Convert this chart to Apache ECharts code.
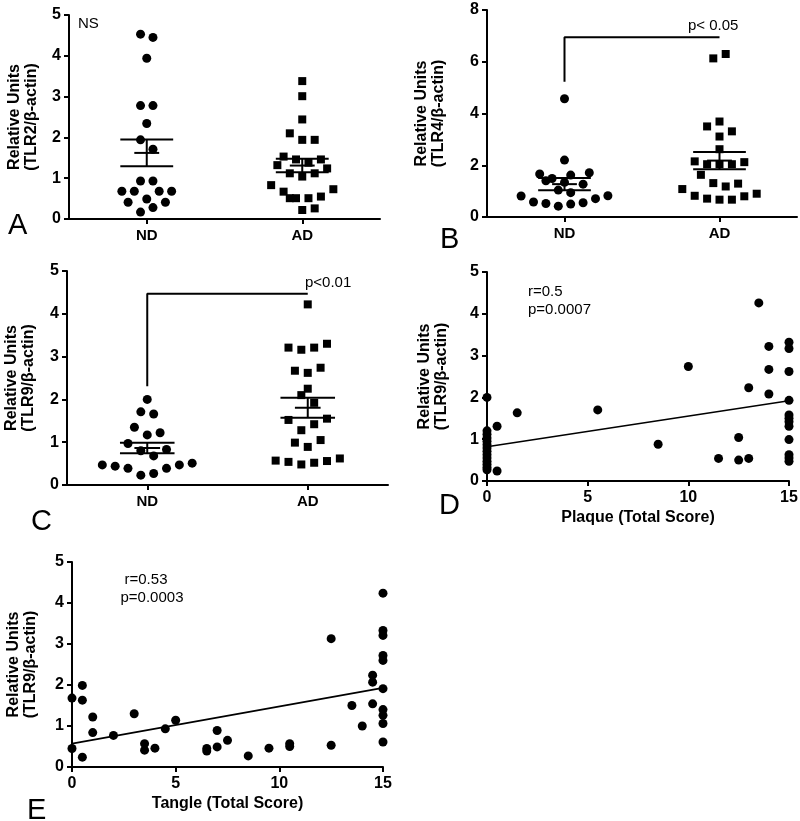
<!DOCTYPE html>
<html><head><meta charset="utf-8">
<script src="https://cdn.jsdelivr.net/npm/echarts@6/dist/echarts.min.js"></script>
<style>html,body{margin:0;padding:0;background:#fff}#c{width:800px;height:821px}</style>
</head><body><div id="c"></div>
<script>
// ---------- DATA ----------
const groups = ['ND', 'AD'];
const yTicksA = [0, 1, 2, 3, 4, 5];
const yTicksB = [0, 2, 4, 6, 8];
const xTicksScore = [0, 5, 10, 15];

// Panel A: TLR2 (values and horizontal jitter offsets)
const aNdY = [4.53, 4.45, 3.94, 2.78, 2.78, 2.34, 1.94, 1.71, 0.93, 0.93, 0.68, 0.68, 0.68, 0.68, 0.41, 0.49, 0.41, 0.17, 0.28];
const aNdJ = [-0.04, 0.04, 0, -0.04, 0.04, 0, -0.04, 0.04, -0.04, 0.04, -0.16, -0.08, 0.08, 0.16, -0.12, 0, 0.12, -0.04, 0.04];
const aAdY = [3.38, 3.01, 2.44, 2.10, 1.94, 1.94, 1.53, 1.46, 1.38, 1.46, 1.32, 1.12, 1.04, 1.12, 1.24, 0.83, 0.67, 0.73, 0.51, 0.51, 0.51, 0.55, 0.22, 0.26];
const aAdJ = [0, 0, 0, -0.08, 0, 0.08, -0.12, -0.04, 0.04, 0.12, -0.16, -0.08, 0, 0.08, 0.16, -0.2, -0.12, 0.2, -0.08, -0.04, 0.04, 0.12, 0, 0.08];
const aMean = [1.62, 1.31];
const aSem = [0.33, 0.165];

// Panel B: TLR4
const bNdY = [4.57, 2.20, 1.66, 1.49, 1.40, 1.62, 1.71, 1.04, 0.94, 1.27, 1.34, 0.81, 0.58, 0.52, 0.42, 0.50, 0.55, 0.71, 0.82];
const bNdJ = [0, 0, -0.16, -0.08, -0.12, 0.04, 0.16, -0.04, 0.04, 0.12, 0, -0.28, -0.2, -0.12, -0.04, 0.04, 0.12, 0.2, 0.28];
const bAdY = [6.13, 6.30, 3.50, 3.69, 3.31, 3.11, 2.62, 2.15, 2.04, 2.04, 2.04, 2.12, 1.63, 1.31, 1.18, 1.29, 1.08, 0.82, 0.71, 0.67, 0.67, 0.80, 0.90];
const bAdJ = [-0.04, 0.04, -0.08, 0, 0.08, 0, 0, -0.16, -0.08, 0, 0.08, 0.16, -0.12, -0.04, 0.04, 0.12, -0.24, -0.16, -0.08, 0, 0.08, 0.16, 0.24];
const bMean = [1.27, 2.18];
const bSem = [0.24, 0.33];
const bBracket = [5.23, 6.95];

// Panel C: TLR9
const cNdY = [2.00, 1.71, 1.66, 1.35, 1.17, 1.22, 0.97, 0.80, 0.68, 0.83, 0.47, 0.44, 0.39, 0.23, 0.27, 0.39, 0.47, 0.51];
const cNdJ = [0, -0.04, 0.04, -0.08, 0, 0.08, -0.12, -0.04, 0.04, 0.12, -0.28, -0.2, -0.12, -0.04, 0.04, 0.12, 0.2, 0.28];
const cAdY = [4.22, 3.21, 3.16, 3.21, 3.30, 2.67, 2.62, 2.74, 2.25, 2.10, 1.92, 1.52, 1.28, 1.42, 1.55, 0.99, 0.89, 1.05, 0.57, 0.54, 0.48, 0.52, 0.56, 0.62];
const cAdJ = [0, -0.12, -0.04, 0.04, 0.12, -0.08, 0, 0.08, 0, -0.04, 0.04, -0.12, -0.04, 0.04, 0.12, -0.08, 0, 0.08, -0.2, -0.12, -0.04, 0.04, 0.12, 0.2];
const cMean = [0.865, 1.805];
const cSem = [0.125, 0.235];
const cBracket = [2.31, 4.47];

// Panel D: TLR9 vs plaque score
const plaqueX = [0, 0, 0, 0, 0, 0, 0, 0, 0, 0, 0, 0, 0, 0, 0.5, 0.5, 1.5, 5.5, 8.5, 10, 11.5, 12.5, 12.5, 13, 13, 13.5, 14, 14, 14, 15, 15, 15, 15, 15, 15, 15, 15, 15, 15, 15, 15];
const plaqueY = [2.00, 1.20, 1.12, 1.03, 0.95, 0.87, 0.79, 0.71, 0.63, 0.55, 0.47, 0.40, 0.33, 0.27, 1.31, 0.24, 1.63, 1.70, 0.88, 2.74, 0.54, 1.04, 0.50, 0.54, 2.23, 4.26, 3.22, 2.67, 2.08, 3.32, 3.17, 2.62, 1.93, 1.58, 1.50, 1.42, 1.31, 0.99, 0.63, 0.55, 0.47];
const plaqueFitX = [0, 15];
const plaqueFitY = [0.82, 1.92];

// Panel E: TLR9 vs tangle score
const tangleX = [0, 0, 0.5, 0.5, 0.5, 1, 1, 2, 3, 3.5, 3.5, 4, 4.5, 5, 6.5, 6.5, 7, 7, 7.5, 8.5, 9.5, 10.5, 10.5, 12.5, 12.5, 13.5, 14, 14.5, 14.5, 14.5, 15, 15, 15, 15, 15, 15, 15, 15, 15, 15];
const tangleY = [1.68, 0.45, 1.99, 1.63, 0.24, 1.22, 0.84, 0.77, 1.30, 0.57, 0.41, 0.46, 0.93, 1.14, 0.45, 0.39, 0.89, 0.49, 0.65, 0.27, 0.46, 0.57, 0.50, 3.13, 0.53, 1.50, 1.00, 2.24, 2.07, 1.54, 4.24, 3.33, 3.21, 2.72, 2.60, 1.91, 1.40, 1.26, 1.06, 0.61];
const tangleFitX = [0, 15];
const tangleFitY = [0.57, 1.93];

// ---------- CHART ----------
const FONT = 'Liberation Sans, Arial, sans-serif';
const BLACK = '#000';
const chart = echarts.init(document.getElementById('c'), null, {renderer: 'canvas'});

const gridsPx = [
  {left: 69, top: 15, width: 311, height: 204},
  {left: 487, top: 10, width: 310, height: 207},
  {left: 67, top: 271, width: 321, height: 214},
  {left: 487, top: 272, width: 302, height: 209},
  {left: 72, top: 562, width: 311, height: 205}
];

const axisLine = {show: true, onZero: false, lineStyle: {color: BLACK, width: 2}};
const axisTick = {show: true, length: 5, lineStyle: {color: BLACK, width: 2}};
const tickLabel = {color: BLACK, fontFamily: FONT, fontWeight: 'bold', fontSize: 16};

function catAxis(g) {
  return {type: 'category', gridIndex: g, data: groups, boundaryGap: true,
    axisLine, axisTick: Object.assign({alignWithLabel: true}, axisTick),
    axisLabel: Object.assign({margin: 9}, tickLabel, {fontSize: 15}), splitLine: {show: false}};
}
function hiddenX(g) {
  return {type: 'value', gridIndex: g, min: 0, max: 2, show: false, splitLine: {show: false}};
}
function scoreAxis(g, name) {
  return {type: 'value', gridIndex: g, min: xTicksScore[0], max: xTicksScore[xTicksScore.length - 1],
    interval: xTicksScore[1] - xTicksScore[0], axisLine, axisTick,
    axisLabel: Object.assign({margin: 9}, tickLabel), splitLine: {show: false},
    name, nameLocation: 'middle', nameGap: 29,
    nameTextStyle: {color: BLACK, fontFamily: FONT, fontWeight: 'bold', fontSize: 16}};
}
function yAx(g, ticks, label, gap) {
  return {type: 'value', gridIndex: g, min: ticks[0], max: ticks[ticks.length - 1],
    interval: ticks[1] - ticks[0], axisLine, axisTick,
    axisLabel: Object.assign({margin: 8}, tickLabel), splitLine: {show: false},
    name: 'Relative Units\n(' + label + '/β-actin)', nameLocation: 'middle', nameGap: gap,
    nameTextStyle: {color: BLACK, fontFamily: FONT, fontWeight: 'bold', fontSize: 16, lineHeight: 17}};
}

function dots(xi, yi, ys, xs, symbol, size) {
  return {type: 'scatter', xAxisIndex: xi, yAxisIndex: yi, symbol, symbolSize: size, clip: false,
    itemStyle: {color: BLACK, opacity: 1}, z: 3, silent: true,
    data: ys.map((v, i) => [xs[i], v])};
}
function jittered(js, center) { return js.map(j => center + j); }
function semSeries(xi, yi, means, sems) {
  return {type: 'custom', xAxisIndex: xi, yAxisIndex: yi, z: 6, silent: true, clip: false,
    encode: {x: 0, y: 1},
    data: means.map((m, i) => [i + 0.5, m, sems[i]]),
    renderItem(params, api) {
      const x = api.value(0), m = api.value(1), s = api.value(2);
      const wWide = 0.17, wShort = 0.08;
      const seg = (x1, y1, x2, y2) => {
        const p1 = api.coord([x1, y1]), p2 = api.coord([x2, y2]);
        return {type: 'line', shape: {x1: p1[0], y1: p1[1], x2: p2[0], y2: p2[1]},
          style: {stroke: BLACK, lineWidth: 2}};
      };
      return {type: 'group', children: [
        seg(x - wWide, m + s, x + wWide, m + s),
        seg(x - wWide, m - s, x + wWide, m - s),
        seg(x - wShort, m, x + wShort, m),
        seg(x, m - s, x, m + s)
      ]};
    }};
}
function bracket(xi, yi, lo, hi) {
  return {type: 'line', xAxisIndex: xi, yAxisIndex: yi, symbol: 'none', silent: true, z: 4,
    lineStyle: {color: BLACK, width: 2}, data: [[0.5, lo], [0.5, hi], [1.5, hi]]};
}
function fitLine(xi, yi, xs, ys) {
  return {type: 'line', xAxisIndex: xi, yAxisIndex: yi, symbol: 'none', silent: true, z: 4,
    lineStyle: {color: BLACK, width: 1.6}, data: xs.map((x, i) => [x, ys[i]])};
}
function txt(x, y, s, size, align) {
  return {type: 'text', x, y, silent: true,
    style: {text: s, fill: BLACK, font: 'normal ' + size + 'px ' + FONT, textAlign: align || 'left'}};
}

const option = {
  animation: false,
  backgroundColor: '#fff',
  grid: gridsPx.map(g => Object.assign({containLabel: false, outerBoundsMode: 'none'}, g)),
  xAxis: [catAxis(0), hiddenX(0), catAxis(1), hiddenX(1), catAxis(2), hiddenX(2),
    scoreAxis(3, 'Plaque (Total Score)'), scoreAxis(4, 'Tangle (Total Score)')],
  yAxis: [yAx(0, yTicksA, 'TLR2', 29), yAx(1, yTicksB, 'TLR4', 40), yAx(2, yTicksA, 'TLR9', 30),
    yAx(3, yTicksA, 'TLR9', 37), yAx(4, yTicksA, 'TLR9', 33)],
  series: [
    dots(1, 0, aNdY, jittered(aNdJ, 0.5), 'circle', 9), dots(1, 0, aAdY, jittered(aAdJ, 1.5), 'rect', 8),
    semSeries(1, 0, aMean, aSem),
    dots(3, 1, bNdY, jittered(bNdJ, 0.5), 'circle', 9), dots(3, 1, bAdY, jittered(bAdJ, 1.5), 'rect', 8),
    semSeries(3, 1, bMean, bSem), bracket(3, 1, bBracket[0], bBracket[1]),
    dots(5, 2, cNdY, jittered(cNdJ, 0.5), 'circle', 9), dots(5, 2, cAdY, jittered(cAdJ, 1.5), 'rect', 8),
    semSeries(5, 2, cMean, cSem), bracket(5, 2, cBracket[0], cBracket[1]),
    dots(6, 3, plaqueY, plaqueX, 'circle', 9), fitLine(6, 3, plaqueFitX, plaqueFitY),
    dots(7, 4, tangleY, tangleX, 'circle', 9), fitLine(7, 4, tangleFitX, tangleFitY)
  ],
  graphic: [
    txt(78, 16, 'NS', 15),
    txt(688, 18, 'p< 0.05', 15),
    txt(305, 275, 'p<0.01', 15),
    txt(528, 284, 'r=0.5', 15),
    txt(528, 302, 'p=0.0007', 15),
    txt(146, 572, 'r=0.53', 15, 'center'),
    txt(152, 590, 'p=0.0003', 15, 'center'),
    txt(8, 211, 'A', 29),
    txt(440, 225, 'B', 29),
    txt(31, 507, 'C', 29),
    txt(439, 491, 'D', 29),
    txt(27, 796, 'E', 29)
  ]
};
chart.setOption(option);
</script>
</body></html>
